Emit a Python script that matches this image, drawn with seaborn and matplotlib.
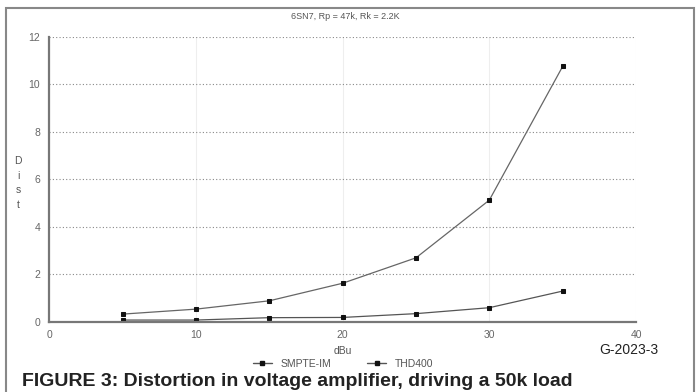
import pandas as pd
import matplotlib.pyplot as plt
import seaborn as sns
from matplotlib.patches import Rectangle

# values
dbu = [5, 10, 15, 20, 25, 30, 35]
smpte_im = [0.32, 0.53, 0.88, 1.62, 2.69, 5.12, 10.75]
thd400 = [0.07, 0.07, 0.17, 0.18, 0.34, 0.59, 1.29]
series_names = ['SMPTE-IM', 'THD400']
x_ticks = [0, 10, 20, 30, 40]
y_ticks = [0, 2, 4, 6, 8, 10, 12]

df = pd.DataFrame({
    'dBu': dbu * 2,
    'Dist': smpte_im + thd400,
    'Series': [series_names[0]] * len(dbu) + [series_names[1]] * len(dbu),
})

sns.set_theme(style="white")
plt.rcParams['font.family'] = ['Liberation Sans', 'DejaVu Sans']

fig = plt.figure(figsize=(7, 3.92), dpi=100)
ax = fig.add_axes([0.0704, 0.1793, 0.8382, 0.7271])

sns.lineplot(data=df, x='dBu', y='Dist', hue='Series', style='Series',
             markers={'SMPTE-IM': 's', 'THD400': 's'}, dashes=False,
             palette={'SMPTE-IM': '#666666', 'THD400': '#555555'},
             linewidth=0.9, markersize=3.5, markeredgecolor='#111111',
             markerfacecolor='#111111', ax=ax, legend=False)

ax.set_xlim(0, 40)
ax.set_ylim(0, 12)
ax.set_xticks(x_ticks)
ax.set_yticks(y_ticks)
ax.tick_params(axis='both', labelsize=7.5, colors='#555555', length=3, width=1)
ax.tick_params(axis='x', length=0, pad=6)
for lab in ax.get_xticklabels() + ax.get_yticklabels():
    lab.set_color('#666666')

# grid: dotted horizontal, faint vertical
ax.yaxis.grid(True, linestyle=(0, (1, 2)), color='#888888', linewidth=0.8)
ax.xaxis.grid(True, linestyle='-', color='#eeeeee', linewidth=0.8)
ax.set_axisbelow(True)

for s in ['top', 'right']:
    ax.spines[s].set_visible(False)
for s in ['left', 'bottom']:
    ax.spines[s].set_color('#777777')
    ax.spines[s].set_linewidth(1.6)

ax.set_xlabel('dBu', fontsize=7.5, color='#555555', labelpad=4)
ax.set_ylabel('D\ni\ns\nt', fontsize=7.5, color='#555555', rotation=0,
              va='center', linespacing=1.6)
ax.yaxis.set_label_coords(-0.053, 0.487)

fig.text(0.493, 0.957, '6SN7, Rp = 47k, Rk = 2.2K', ha='center', va='center',
         fontsize=6.5, color='#555555')
fig.text(0.94, 0.108, 'G-2023-3', ha='right', va='center', fontsize=10,
         color='#222222')

handles = [plt.Line2D([], [], color='#555555', lw=1, marker='s', markersize=3,
                      markerfacecolor='#111111', markeredgecolor='#111111')
           for _ in series_names]
fig.legend(handles, series_names, loc='center', bbox_to_anchor=(0.49, 0.072),
           ncol=2, frameon=False, fontsize=7.5, handlelength=1.8,
           columnspacing=3.5, labelcolor='#555555')

fig.text(0.031, 0.016, 'FIGURE 3: Distortion in voltage amplifier, driving a 50k load',
         ha='left', va='baseline', fontsize=14, fontweight='bold',
         color='#222222', family=['Liberation Sans', 'DejaVu Sans'])

# outer frame
fig.patches.append(Rectangle((0.008, -0.02), 0.984, 0.999, transform=fig.transFigure,
                             fill=False, edgecolor='#888888', linewidth=1.5))

fig.savefig('out.png', dpi=100)
